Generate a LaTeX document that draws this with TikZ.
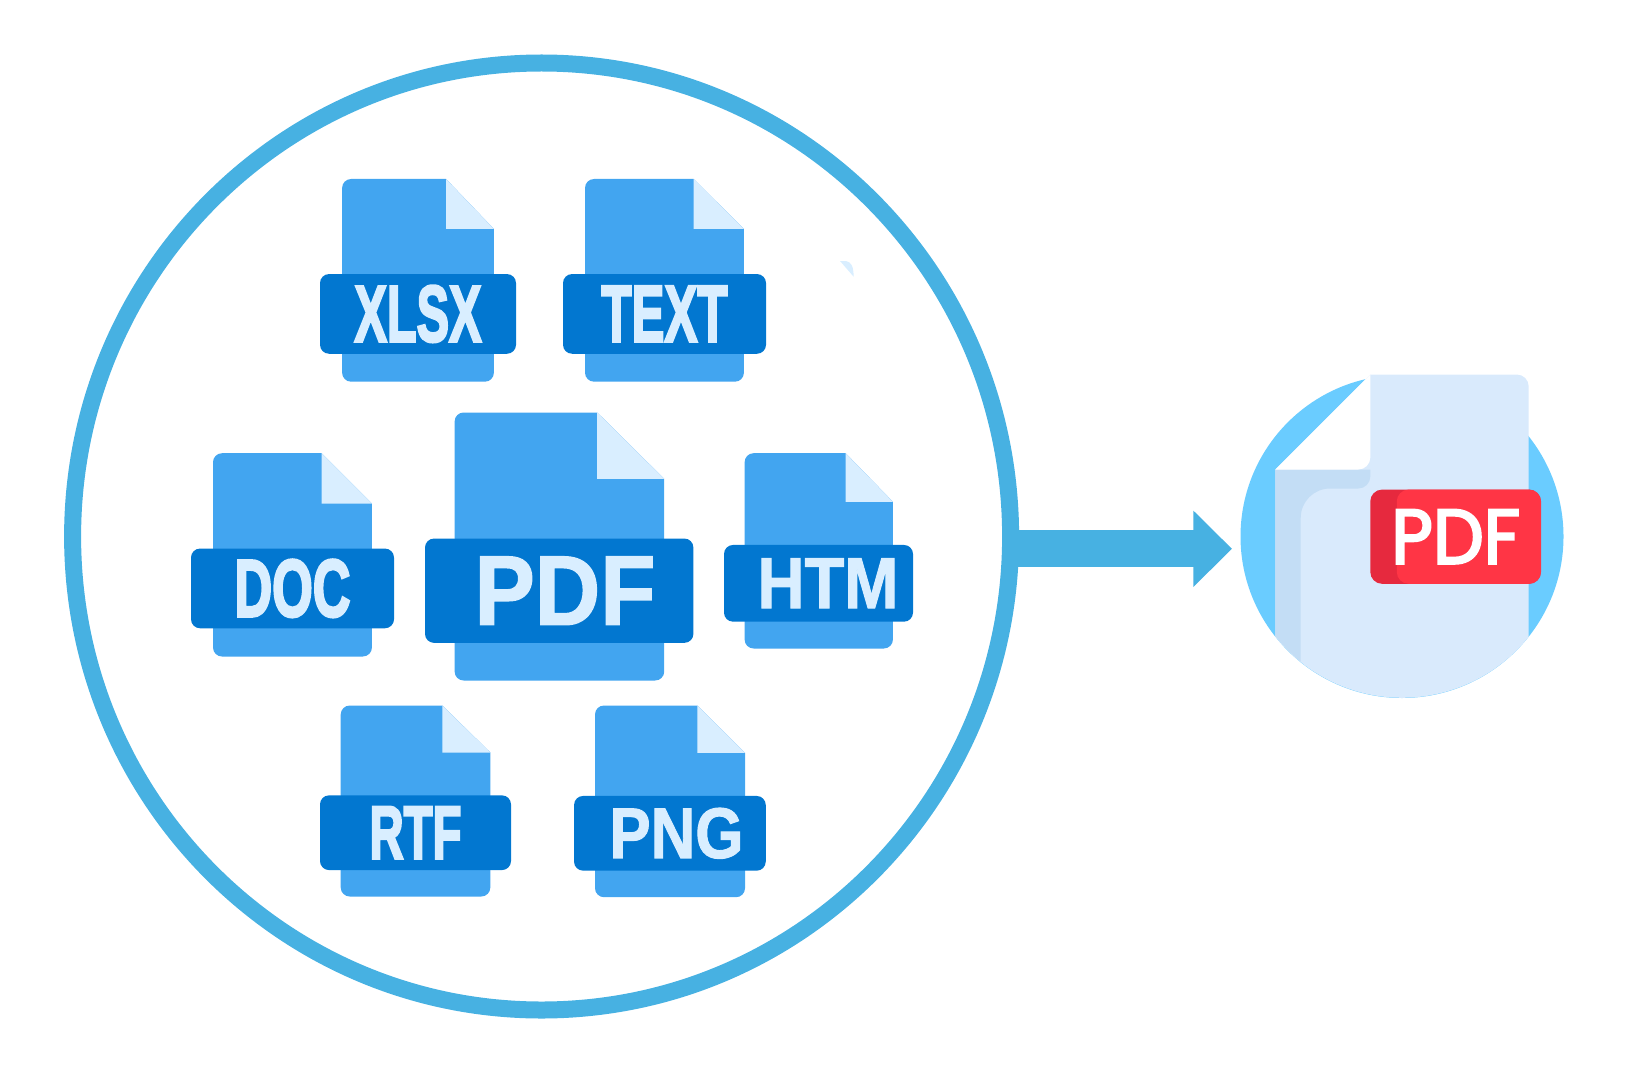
\documentclass[tikz,border=0pt]{standalone}
\usepackage{graphicx}
\usepackage{fontspec}
\setmainfont{Liberation Sans}
\newfontfamily\badgefont[FakeBold=3,FakeStretch=0.93]{Poppins}
\newfontfamily\heavyfont[BoldFeatures={FakeBold=3.5}]{Liberation Sans}
\newfontfamily\tagfont[BoldFeatures={FakeBold=1.5}]{Liberation Sans}
\usetikzlibrary{arrows.meta,shapes.geometric}
\newlength{\pxu}
\setlength{\pxu}{0.75pt}
\definecolor{ringblue}{HTML}{47B1E2}
\definecolor{bodyblue}{HTML}{42A5F0}
\definecolor{bandblue}{HTML}{0277D0}
\definecolor{foldblue}{HTML}{D9EEFF}
\definecolor{diskblue}{HTML}{6ACCFF}
\definecolor{sheetblue}{HTML}{D9EAFC}
\definecolor{shadeblue}{HTML}{C3DDF5}
\definecolor{badgered}{HTML}{FF3545}
\definecolor{badgedark}{HTML}{E6293E}
\tikzset{
  >={Triangle[length=29pt,width=55.5pt]},
  band/.style={fill=bandblue, rounded corners=9\pxu, inner sep=0pt},
  bandlabel/.style={text=foldblue, inner sep=0pt, font=\bfseries},
  flowarrow/.style={->, draw=ringblue, fill=ringblue, line width=37\pxu},
  badgepart/.style={rounded corners=12\pxu, inner sep=0pt}
}
% left, top, right, bottom, fold x, fold y
\newcommand{\filesheet}[6]{
  \fill[bodyblue] (#5,#2) [rounded corners=9\pxu] -- (#1,#2) -- (#1,#4) -- (#3,#4) [sharp corners] -- (#3,#6) -- cycle;
  \fill[foldblue] (#5,#2) -- (#3,#6) -- (#5,#6) -- cycle;
}
% name, centre x, centre y, width, height, label shift, label width, label height, label
\newcommand{\filetag}[9]{
  \node[band, minimum width=#4\pxu, minimum height=#5\pxu] (#1) at (#2,#3) {};
  \node[bandlabel] (#1label) at ([xshift=#6\pxu]#1) {\resizebox{#7\pxu}{#8\pxu}{#9}};
}
\begin{document}
\begin{tikzpicture}[x=0.75pt,y=-0.75pt]
      \useasboundingbox (0,0) rectangle (1633,1066);
      \node[ellipse, draw=ringblue, line width=17\pxu, minimum width=938\pxu, minimum height=947\pxu, inner sep=0pt] (ring) at (541.6,536.5) {};
      \node[circle, fill=diskblue, minimum size=323\pxu, inner sep=0pt] (disk) at (1402,536.5) {};
      \coordinate (arrowtip) at (1232,548.8);
      \draw[flowarrow, shorten <=-3pt] (ring.east |- arrowtip) -- (arrowtip);

      \filesheet{342.1}{179}{493.9}{381.7}{446}{229}
      \filetag{xlsx}{418}{313.9}{196}{79.7}{0}{127}{55.7}{\heavyfont XLSX}
      \filesheet{585}{179}{743.9}{381.7}{693.6}{229}
      \filetag{text}{664.5}{313.9}{203}{79.7}{0}{126}{55}{\heavyfont TEXT}
      \filesheet{213}{453.2}{371.9}{656.5}{321.6}{503.5}
      \filetag{doc}{292.5}{588.4}{203}{79.7}{0}{116}{56.7}{\heavyfont DOC}
      \filesheet{454.6}{412.5}{664.2}{680.5}{597.2}{478.8}
      \filetag{pdf}{559.2}{590.7}{268.4}{104.3}{5.8}{181}{68}{\tagfont PDF}
      \filesheet{744.6}{453.2}{892.9}{648.5}{845.6}{501.8}
      \filetag{htm}{818.5}{583.3}{189}{76.7}{9.5}{141}{49.7}{\tagfont HTM}
      \filesheet{340.7}{705.5}{490.3}{896.5}{442.3}{752.5}
      \filetag{rtf}{415.5}{832.7}{191}{74.7}{0}{92}{51.7}{\heavyfont RTF}
      \filesheet{595}{705.5}{745}{897.2}{697.3}{752.8}
      \filetag{png}{669.9}{833.3}{191.7}{74.7}{6.5}{134}{50}{\tagfont PNG}

      \fill[foldblue] (840,261) -- (846,261) .. controls (851,262) and (853.6,266) .. (853.6,276.7) -- cycle;

      \fill[sheetblue] (1370.3,374.5) [rounded corners=12\pxu] -- (1528.7,374.5) [sharp corners] -- (1528.7,636.7) arc (38.5:141.5:161.8) -- (1275.3,469.5) -- cycle;
      \fill[shadeblue] (1275.3,469.5) -- (1370.3,469.5) [rounded corners=12\pxu] -- (1370.3,488.5) [rounded corners=22pt] -- (1300.7,488.5) [sharp corners] -- (1300.7,661.7) arc (128.8:141.5:161.8) -- cycle;
      \fill[white] (1370.3,374.5) -- (1275.3,469.5) [rounded corners=12\pxu] -- (1370.3,469.5) [sharp corners] -- cycle;
      \node[badgepart, fill=badgedark, minimum width=170.7\pxu, minimum height=94.3\pxu] (badgeshade) at (1455.6,536.7) {};
      \node[badgepart, fill=badgered, minimum width=144.3\pxu, minimum height=94.3\pxu] (badge) at (1468.9,536.7) {};
      \node[text=white, inner sep=0pt, font=\badgefont\fontsize{58}{58}\selectfont] (badgelabel) at (badgeshade) {PDF};
    \end{tikzpicture}
\end{document}
